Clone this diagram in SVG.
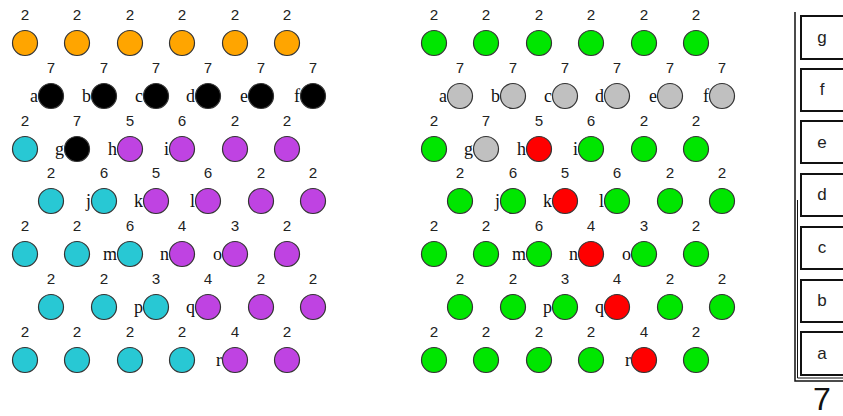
<svg xmlns="http://www.w3.org/2000/svg" width="843" height="416" viewBox="0 0 843 416">
<style>
circle{stroke:#333;stroke-width:1.2}
.o{fill:#ffa500}.k{fill:#000}.c{fill:#28c8d4}.p{fill:#bf43e2}.g{fill:#00e600}.s{fill:#c0c0c0}.r{fill:#ff0000}
.num{font-family:"Liberation Mono",monospace;font-size:15px;fill:#222;text-anchor:middle}
.lt{font-family:"Liberation Serif",serif;font-size:18px;fill:#111;text-anchor:end}
.box{fill:#fff;stroke:#111;stroke-width:2}
.bt{font-family:"Liberation Sans",sans-serif;font-size:17px;fill:#222;text-anchor:middle}
</style>
<rect width="843" height="416" fill="#fff"/>
<g id="connectors"/>
<!-- LEFT GRID -->
<g id="L-r0">
<g id="L00"><text class="num" x="25" y="20">2</text><circle class="o" cx="25" cy="43" r="12.5"/></g>
<g id="L01"><text class="num" x="77" y="20">2</text><circle class="o" cx="77" cy="43" r="12.5"/></g>
<g id="L02"><text class="num" x="130" y="20">2</text><circle class="o" cx="130" cy="43" r="12.5"/></g>
<g id="L03"><text class="num" x="182" y="20">2</text><circle class="o" cx="182" cy="43" r="12.5"/></g>
<g id="L04"><text class="num" x="235" y="20">2</text><circle class="o" cx="235" cy="43" r="12.5"/></g>
<g id="L05"><text class="num" x="287" y="20">2</text><circle class="o" cx="287" cy="43" r="12.5"/></g>
</g>
<g id="L-r1">
<g id="L-a"><text class="num" x="51" y="73">7</text><text class="lt" x="38" y="102">a</text><circle class="k" cx="51" cy="96" r="12.5"/></g>
<g id="L-b"><text class="num" x="104" y="73">7</text><text class="lt" x="91" y="102">b</text><circle class="k" cx="104" cy="96" r="12.5"/></g>
<g id="L-c"><text class="num" x="156" y="73">7</text><text class="lt" x="143" y="102">c</text><circle class="k" cx="156" cy="96" r="12.5"/></g>
<g id="L-d"><text class="num" x="208" y="73">7</text><text class="lt" x="195" y="102">d</text><circle class="k" cx="208" cy="96" r="12.5"/></g>
<g id="L-e"><text class="num" x="261" y="73">7</text><text class="lt" x="248" y="102">e</text><circle class="k" cx="261" cy="96" r="12.5"/></g>
<g id="L-f"><text class="num" x="313" y="73">7</text><text class="lt" x="300" y="102">f</text><circle class="k" cx="313" cy="96" r="12.5"/></g>
</g>
<g id="L-r2">
<g id="L20"><text class="num" x="25" y="126">2</text><circle class="c" cx="25" cy="149" r="12.5"/></g>
<g id="L-g"><text class="num" x="77" y="126">7</text><text class="lt" x="64" y="155">g</text><circle class="k" cx="77" cy="149" r="12.5"/></g>
<g id="L-h"><text class="num" x="130" y="126">5</text><text class="lt" x="117" y="155">h</text><circle class="p" cx="130" cy="149" r="12.5"/></g>
<g id="L-i"><text class="num" x="182" y="126">6</text><text class="lt" x="169" y="155">i</text><circle class="p" cx="182" cy="149" r="12.5"/></g>
<g id="L24"><text class="num" x="235" y="126">2</text><circle class="p" cx="235" cy="149" r="12.5"/></g>
<g id="L25"><text class="num" x="287" y="126">2</text><circle class="p" cx="287" cy="149" r="12.5"/></g>
</g>
<g id="L-r3">
<g id="L30"><text class="num" x="51" y="178">2</text><circle class="c" cx="51" cy="201" r="12.5"/></g>
<g id="L-j"><text class="num" x="104" y="178">6</text><text class="lt" x="91" y="207">j</text><circle class="c" cx="104" cy="201" r="12.5"/></g>
<g id="L-k"><text class="num" x="156" y="178">5</text><text class="lt" x="143" y="207">k</text><circle class="p" cx="156" cy="201" r="12.5"/></g>
<g id="L-l"><text class="num" x="208" y="178">6</text><text class="lt" x="195" y="207">l</text><circle class="p" cx="208" cy="201" r="12.5"/></g>
<g id="L34"><text class="num" x="261" y="178">2</text><circle class="p" cx="261" cy="201" r="12.5"/></g>
<g id="L35"><text class="num" x="313" y="178">2</text><circle class="p" cx="313" cy="201" r="12.5"/></g>
</g>
<g id="L-r4">
<g id="L40"><text class="num" x="25" y="231">2</text><circle class="c" cx="25" cy="254" r="12.5"/></g>
<g id="L41"><text class="num" x="77" y="231">2</text><circle class="c" cx="77" cy="254" r="12.5"/></g>
<g id="L-m"><text class="num" x="130" y="231">6</text><text class="lt" x="117" y="260">m</text><circle class="c" cx="130" cy="254" r="12.5"/></g>
<g id="L-n"><text class="num" x="182" y="231">4</text><text class="lt" x="169" y="260">n</text><circle class="p" cx="182" cy="254" r="12.5"/></g>
<g id="L-o"><text class="num" x="235" y="231">3</text><text class="lt" x="222" y="260">o</text><circle class="p" cx="235" cy="254" r="12.5"/></g>
<g id="L45"><text class="num" x="287" y="231">2</text><circle class="p" cx="287" cy="254" r="12.5"/></g>
</g>
<g id="L-r5">
<g id="L50"><text class="num" x="51" y="284">2</text><circle class="c" cx="51" cy="307" r="12.5"/></g>
<g id="L51"><text class="num" x="104" y="284">2</text><circle class="c" cx="104" cy="307" r="12.5"/></g>
<g id="L-p"><text class="num" x="156" y="284">3</text><text class="lt" x="143" y="313">p</text><circle class="c" cx="156" cy="307" r="12.5"/></g>
<g id="L-q"><text class="num" x="208" y="284">4</text><text class="lt" x="195" y="313">q</text><circle class="p" cx="208" cy="307" r="12.5"/></g>
<g id="L54"><text class="num" x="261" y="284">2</text><circle class="p" cx="261" cy="307" r="12.5"/></g>
<g id="L55"><text class="num" x="313" y="284">2</text><circle class="p" cx="313" cy="307" r="12.5"/></g>
</g>
<g id="L-r6">
<g id="L60"><text class="num" x="25" y="337">2</text><circle class="c" cx="25" cy="360" r="12.5"/></g>
<g id="L61"><text class="num" x="77" y="337">2</text><circle class="c" cx="77" cy="360" r="12.5"/></g>
<g id="L62"><text class="num" x="130" y="337">2</text><circle class="c" cx="130" cy="360" r="12.5"/></g>
<g id="L63"><text class="num" x="182" y="337">2</text><circle class="c" cx="182" cy="360" r="12.5"/></g>
<g id="L-r"><text class="num" x="235" y="337">4</text><text class="lt" x="222" y="366">r</text><circle class="p" cx="235" cy="360" r="12.5"/></g>
<g id="L65"><text class="num" x="287" y="337">2</text><circle class="p" cx="287" cy="360" r="12.5"/></g>
</g>
<!-- RIGHT GRID -->
<g id="R-r0">
<g id="R00"><text class="num" x="434" y="20">2</text><circle class="g" cx="434" cy="43" r="12.5"/></g>
<g id="R01"><text class="num" x="486" y="20">2</text><circle class="g" cx="486" cy="43" r="12.5"/></g>
<g id="R02"><text class="num" x="539" y="20">2</text><circle class="g" cx="539" cy="43" r="12.5"/></g>
<g id="R03"><text class="num" x="591" y="20">2</text><circle class="g" cx="591" cy="43" r="12.5"/></g>
<g id="R04"><text class="num" x="644" y="20">2</text><circle class="g" cx="644" cy="43" r="12.5"/></g>
<g id="R05"><text class="num" x="696" y="20">2</text><circle class="g" cx="696" cy="43" r="12.5"/></g>
</g>
<g id="R-r1">
<g id="R-a"><text class="num" x="460" y="73">7</text><text class="lt" x="447" y="102">a</text><circle class="s" cx="460" cy="96" r="12.5"/></g>
<g id="R-b"><text class="num" x="513" y="73">7</text><text class="lt" x="500" y="102">b</text><circle class="s" cx="513" cy="96" r="12.5"/></g>
<g id="R-c"><text class="num" x="565" y="73">7</text><text class="lt" x="552" y="102">c</text><circle class="s" cx="565" cy="96" r="12.5"/></g>
<g id="R-d"><text class="num" x="617" y="73">7</text><text class="lt" x="604" y="102">d</text><circle class="s" cx="617" cy="96" r="12.5"/></g>
<g id="R-e"><text class="num" x="670" y="73">7</text><text class="lt" x="657" y="102">e</text><circle class="s" cx="670" cy="96" r="12.5"/></g>
<g id="R-f"><text class="num" x="722" y="73">7</text><text class="lt" x="709" y="102">f</text><circle class="s" cx="722" cy="96" r="12.5"/></g>
</g>
<g id="R-r2">
<g id="R20"><text class="num" x="434" y="126">2</text><circle class="g" cx="434" cy="149" r="12.5"/></g>
<g id="R-g"><text class="num" x="486" y="126">7</text><text class="lt" x="473" y="155">g</text><circle class="s" cx="486" cy="149" r="12.5"/></g>
<g id="R-h"><text class="num" x="539" y="126">5</text><text class="lt" x="526" y="155">h</text><circle class="r" cx="539" cy="149" r="12.5"/></g>
<g id="R-i"><text class="num" x="591" y="126">6</text><text class="lt" x="578" y="155">i</text><circle class="g" cx="591" cy="149" r="12.5"/></g>
<g id="R24"><text class="num" x="644" y="126">2</text><circle class="g" cx="644" cy="149" r="12.5"/></g>
<g id="R25"><text class="num" x="696" y="126">2</text><circle class="g" cx="696" cy="149" r="12.5"/></g>
</g>
<g id="R-r3">
<g id="R30"><text class="num" x="460" y="178">2</text><circle class="g" cx="460" cy="201" r="12.5"/></g>
<g id="R-j"><text class="num" x="513" y="178">6</text><text class="lt" x="500" y="207">j</text><circle class="g" cx="513" cy="201" r="12.5"/></g>
<g id="R-k"><text class="num" x="565" y="178">5</text><text class="lt" x="552" y="207">k</text><circle class="r" cx="565" cy="201" r="12.5"/></g>
<g id="R-l"><text class="num" x="617" y="178">6</text><text class="lt" x="604" y="207">l</text><circle class="g" cx="617" cy="201" r="12.5"/></g>
<g id="R34"><text class="num" x="670" y="178">2</text><circle class="g" cx="670" cy="201" r="12.5"/></g>
<g id="R35"><text class="num" x="722" y="178">2</text><circle class="g" cx="722" cy="201" r="12.5"/></g>
</g>
<g id="R-r4">
<g id="R40"><text class="num" x="434" y="231">2</text><circle class="g" cx="434" cy="254" r="12.5"/></g>
<g id="R41"><text class="num" x="486" y="231">2</text><circle class="g" cx="486" cy="254" r="12.5"/></g>
<g id="R-m"><text class="num" x="539" y="231">6</text><text class="lt" x="526" y="260">m</text><circle class="g" cx="539" cy="254" r="12.5"/></g>
<g id="R-n"><text class="num" x="591" y="231">4</text><text class="lt" x="578" y="260">n</text><circle class="r" cx="591" cy="254" r="12.5"/></g>
<g id="R-o"><text class="num" x="644" y="231">3</text><text class="lt" x="631" y="260">o</text><circle class="g" cx="644" cy="254" r="12.5"/></g>
<g id="R45"><text class="num" x="696" y="231">2</text><circle class="g" cx="696" cy="254" r="12.5"/></g>
</g>
<g id="R-r5">
<g id="R50"><text class="num" x="460" y="284">2</text><circle class="g" cx="460" cy="307" r="12.5"/></g>
<g id="R51"><text class="num" x="513" y="284">2</text><circle class="g" cx="513" cy="307" r="12.5"/></g>
<g id="R-p"><text class="num" x="565" y="284">3</text><text class="lt" x="552" y="313">p</text><circle class="g" cx="565" cy="307" r="12.5"/></g>
<g id="R-q"><text class="num" x="617" y="284">4</text><text class="lt" x="604" y="313">q</text><circle class="r" cx="617" cy="307" r="12.5"/></g>
<g id="R54"><text class="num" x="670" y="284">2</text><circle class="g" cx="670" cy="307" r="12.5"/></g>
<g id="R55"><text class="num" x="722" y="284">2</text><circle class="g" cx="722" cy="307" r="12.5"/></g>
</g>
<g id="R-r6">
<g id="R60"><text class="num" x="434" y="337">2</text><circle class="g" cx="434" cy="360" r="12.5"/></g>
<g id="R61"><text class="num" x="486" y="337">2</text><circle class="g" cx="486" cy="360" r="12.5"/></g>
<g id="R62"><text class="num" x="539" y="337">2</text><circle class="g" cx="539" cy="360" r="12.5"/></g>
<g id="R63"><text class="num" x="591" y="337">2</text><circle class="g" cx="591" cy="360" r="12.5"/></g>
<g id="R-r"><text class="num" x="644" y="337">4</text><text class="lt" x="631" y="366">r</text><circle class="r" cx="644" cy="360" r="12.5"/></g>
<g id="R65"><text class="num" x="696" y="337">2</text><circle class="g" cx="696" cy="360" r="12.5"/></g>
</g>
<!-- STACK -->
<g id="stack">
<polyline points="795,12 795,381 843,381" fill="none" stroke="#111" stroke-width="1.5"/>
<polyline points="797.5,200 797.5,378 843,378" fill="none" stroke="#111" stroke-width="1"/>
<g id="S-g"><rect class="box" x="801" y="16" width="44" height="43"/><text class="bt" x="822" y="43">g</text></g>
<g id="S-f"><rect class="box" x="801" y="69" width="44" height="42"/><text class="bt" x="822" y="95">f</text></g>
<g id="S-e"><rect class="box" x="801" y="121" width="44" height="42"/><text class="bt" x="822" y="148">e</text></g>
<g id="S-d"><rect class="box" x="801" y="174" width="44" height="42"/><text class="bt" x="822" y="200">d</text></g>
<g id="S-c"><rect class="box" x="801" y="227" width="44" height="42"/><text class="bt" x="822" y="253">c</text></g>
<g id="S-b"><rect class="box" x="801" y="280" width="44" height="42"/><text class="bt" x="822" y="306">b</text></g>
<g id="S-a"><rect class="box" x="801" y="332" width="44" height="43"/><text class="bt" x="822" y="359">a</text></g>
<text x="822" y="410" font-family="Liberation Sans, sans-serif" font-size="32" fill="#111" text-anchor="middle">7</text>
</g>
</svg>
